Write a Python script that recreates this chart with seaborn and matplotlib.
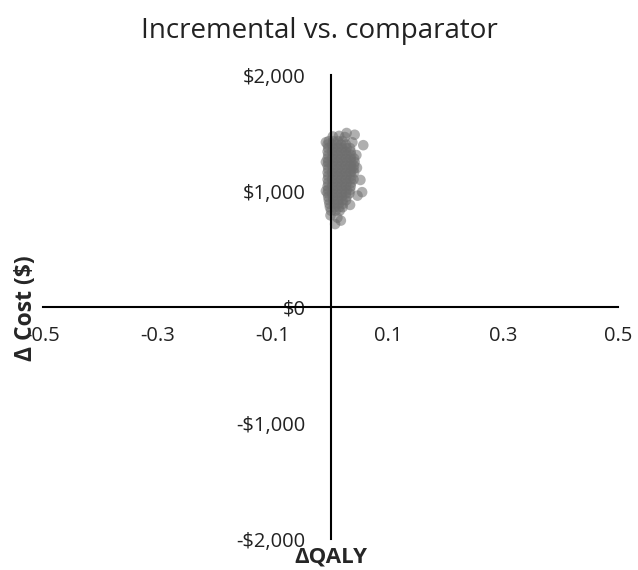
import matplotlib
matplotlib.use("Agg")
import matplotlib.pyplot as plt
import seaborn as sns
import pandas as pd

# incremental QALY / cost pairs (row by row)
delta_qaly = [
    -0.003, 0.005, 0.013, 0.021,
    -0.005, 0.003, 0.011, 0.019, 0.027,
    -0.004, 0.004, 0.012, 0.020, 0.028, 0.034,
    -0.005, 0.003, 0.011, 0.019, 0.027, 0.035,
    -0.004, 0.004, 0.012, 0.020, 0.028, 0.036,
    -0.005, 0.003, 0.011, 0.019, 0.027, 0.035, 0.041,
    -0.004, 0.004, 0.012, 0.020, 0.028, 0.036, 0.042,
    -0.005, 0.003, 0.011, 0.019, 0.027, 0.035, 0.041,
    -0.004, 0.004, 0.012, 0.020, 0.028, 0.036, 0.040,
    -0.005, 0.003, 0.011, 0.019, 0.027, 0.035, 0.041,
    -0.004, 0.004, 0.012, 0.020, 0.028, 0.036,
    -0.005, 0.003, 0.011, 0.019, 0.027, 0.035, 0.040,
    -0.004, 0.004, 0.012, 0.020, 0.028, 0.036,
    -0.005, 0.003, 0.011, 0.019, 0.027, 0.035,
    -0.004, 0.004, 0.012, 0.020, 0.028, 0.034,
    -0.005, 0.003, 0.011, 0.019, 0.027, 0.033,
    -0.004, 0.004, 0.012, 0.020, 0.028,
    -0.003, 0.005, 0.013, 0.021, 0.027,
    -0.002, 0.006, 0.014, 0.022,
    -0.001, 0.007, 0.015, 0.021,
    0.001, 0.009, 0.016,
    # scattered points around the edge
    0.028, 0.042, 0.057, 0.052, 0.055, 0.046, 0.047, -0.008, 0.000, 0.012,
    0.018, 0.008, 0.004, 0.015, 0.025, -0.008, -0.008, 0.038, 0.045, 0.034,
]
delta_cost = [
    1430, 1430, 1430, 1430,
    1400, 1400, 1400, 1400, 1400,
    1370, 1370, 1370, 1370, 1370, 1370,
    1340, 1340, 1340, 1340, 1340, 1340,
    1310, 1310, 1310, 1310, 1310, 1310,
    1280, 1280, 1280, 1280, 1280, 1280, 1280,
    1250, 1250, 1250, 1250, 1250, 1250, 1250,
    1220, 1220, 1220, 1220, 1220, 1220, 1220,
    1190, 1190, 1190, 1190, 1190, 1190, 1190,
    1160, 1160, 1160, 1160, 1160, 1160, 1160,
    1130, 1130, 1130, 1130, 1130, 1130,
    1100, 1100, 1100, 1100, 1100, 1100, 1100,
    1070, 1070, 1070, 1070, 1070, 1070,
    1040, 1040, 1040, 1040, 1040, 1040,
    1010, 1010, 1010, 1010, 1010, 1010,
    980, 980, 980, 980, 980, 980,
    950, 950, 950, 950, 950,
    920, 920, 920, 920, 920,
    890, 890, 890, 890,
    860, 860, 860, 860,
    830, 830, 830,
    1500, 1485, 1395, 1095, 990, 1200, 960, 1420, 790, 770,
    745, 715, 1470, 1475, 1465, 1000, 1250, 1420, 1310, 880,
]

x_ticks = [-0.5, -0.3, -0.1, 0.1, 0.3, 0.5]
y_ticks = [-2000, -1000, 0, 1000, 2000]
y_tick_labels = ["-$2,000", "-$1,000", "$0", "$1,000", "$2,000"]

df = pd.DataFrame({"qaly": delta_qaly, "cost": delta_cost})

sns.set_style("white")
plt.rcParams["font.family"] = ["Open Sans", "DejaVu Sans"]

fig = plt.figure(figsize=(6.38, 5.70), dpi=100)
ax = fig.add_axes([43 / 638, 1 - 539 / 570, 575 / 638, 464 / 570])

sns.scatterplot(data=df, x="qaly", y="cost", ax=ax, color="#6e6e6e",
                alpha=0.55, s=58, edgecolor="none", legend=False)

ax.set_xlim(-0.5, 0.5)
ax.set_ylim(-2000, 2000)
ax.set_xticks(x_ticks)
ax.set_xticklabels([f"{t:g}" for t in x_ticks])
ax.set_yticks(y_ticks)
ax.set_yticklabels(y_tick_labels)

ax.spines["left"].set_position(("data", 0))
ax.spines["bottom"].set_position(("data", 0))
ax.spines["top"].set_visible(False)
ax.spines["right"].set_visible(False)
for sp in ["left", "bottom"]:
    ax.spines[sp].set_color("black")
    ax.spines[sp].set_linewidth(1.5)
ax.tick_params(axis="both", length=0, labelsize=14.5, colors="#222222")
ax.tick_params(axis="y", pad=18)
ax.tick_params(axis="x", pad=14)

ax.set_xlabel("ΔQALY", fontsize=16, fontweight="bold")
ax.set_ylabel("Δ Cost ($)", fontsize=16.5, fontweight="bold", va="center")
ax.xaxis.set_label_coords(0.5, -0.016)
ax.yaxis.set_label_coords(-0.03, 0.497)

fig.text(0.5, 1 - 38 / 570, "Incremental vs. comparator", fontsize=20,
         ha="center", va="baseline", color="#222222")

fig.savefig("out.png", dpi=100)
